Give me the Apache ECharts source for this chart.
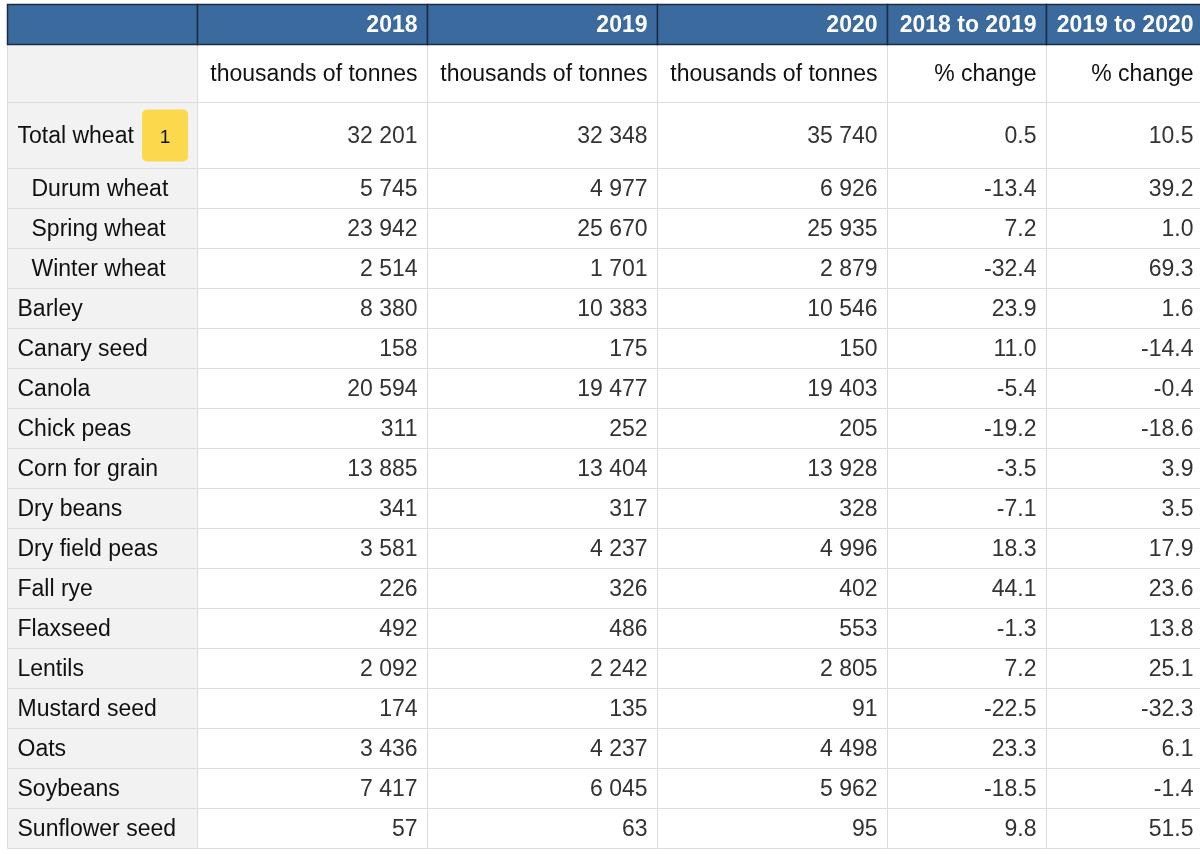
<!DOCTYPE html>
<html>
<head>
<meta charset="utf-8">
<script src="https://cdn.jsdelivr.net/npm/echarts@6/dist/echarts.min.js"></script>
<style>
  html, body { margin: 0; padding: 0; background: #fff; }
  #main { width: 1200px; height: 854px; }
</style>
</head>
<body>
<div id="main"></div>
<script>
// table data
var crops = ['Total wheat', 'Durum wheat', 'Spring wheat', 'Winter wheat', 'Barley', 'Canary seed',
  'Canola', 'Chick peas', 'Corn for grain', 'Dry beans', 'Dry field peas', 'Fall rye', 'Flaxseed',
  'Lentils', 'Mustard seed', 'Oats', 'Soybeans', 'Sunflower seed'];
var subCrops = ['Durum wheat', 'Spring wheat', 'Winter wheat'];
var years = ['2018', '2019', '2020', '2018 to 2019', '2019 to 2020'];
var units = ['thousands of tonnes', 'thousands of tonnes', 'thousands of tonnes', '% change', '% change'];
var prod2018 = [32201, 5745, 23942, 2514, 8380, 158, 20594, 311, 13885, 341, 3581, 226, 492, 2092, 174, 3436, 7417, 57];
var prod2019 = [32348, 4977, 25670, 1701, 10383, 175, 19477, 252, 13404, 317, 4237, 326, 486, 2242, 135, 4237, 6045, 63];
var prod2020 = [35740, 6926, 25935, 2879, 10546, 150, 19403, 205, 13928, 328, 4996, 402, 553, 2805, 91, 4498, 5962, 95];
var chg1819 = [0.5, -13.4, 7.2, -32.4, 23.9, 11.0, -5.4, -19.2, -3.5, -7.1, 18.3, 44.1, -1.3, 7.2, -22.5, 23.3, -18.5, 9.8];
var chg1920 = [10.5, 39.2, 1.0, 69.3, 1.6, -14.4, -0.4, -18.6, 3.9, 3.5, 17.9, 23.6, 13.8, 25.1, -32.3, 6.1, -1.4, 51.5];
var footnote = { crop: 'Total wheat', mark: '1' };

// layout (pixels on the hidden value axes)
var colEdges = [7.5, 197.5, 427.5, 657.5, 887.5, 1046.5, 1203.5];
var rowEdges = [4.5, 44.5, 102.5, 168.5];
for (var k = 1; k < crops.length; k++) rowEdges.push(168.5 + k * 40);

var FONT = '"Liberation Sans", Arial, sans-serif';

function fmtInt(v) {
  return String(v).replace(/\B(?=(\d{3})+(?!\d))/g, ' ');
}

// build cells: [col, row], kind, text
var cells = [];
crops.forEach(function (name, i) {
  var r = i + 2;
  cells.push({ value: [0, r], kind: 'label', text: name, indent: subCrops.indexOf(name) >= 0 });
  [prod2018, prod2019, prod2020].forEach(function (arr, c) {
    cells.push({ value: [c + 1, r], kind: 'num', text: fmtInt(arr[i]) });
  });
  [chg1819, chg1920].forEach(function (arr, c) {
    cells.push({ value: [c + 4, r], kind: 'num', text: arr[i].toFixed(1) });
  });
});
cells.push({ value: [0, 1], kind: 'unitBlank', text: '' });
units.forEach(function (u, c) {
  cells.push({ value: [c + 1, 1], kind: 'unit', text: u });
});
cells.push({ value: [0, 0], kind: 'head', text: '' });
years.forEach(function (y, c) {
  cells.push({ value: [c + 1, 0], kind: 'head', text: y });
});

var myChart = echarts.init(document.getElementById('main'));

function renderCell(params, api) {
  var cell = cells[params.dataIndex];
  var c = api.value(0), r = api.value(1);
  var p0 = api.coord([colEdges[c], rowEdges[r]]);
  var p1 = api.coord([colEdges[c + 1], rowEdges[r + 1]]);
  var x = p0[0], y = p0[1], w = p1[0] - p0[0], h = p1[1] - p0[1];
  var head = cell.kind === 'head';
  var fill = head ? '#3b6a9e' : (c === 0 ? '#f2f2f2' : '#ffffff');
  var stroke = head ? '#1c2c43' : '#dcdcdc';
  var children = [{
    type: 'rect',
    shape: { x: x, y: y, width: w, height: h },
    style: { fill: fill, stroke: stroke, lineWidth: head ? 1.5 : 1 }
  }];
  if (cell.text) {
    var left = cell.kind === 'label';
    children.push({
      type: 'text',
      style: {
        text: cell.text,
        x: left ? x + (cell.indent ? 24 : 10) : x + w - 10,
        y: y + h / 2 + 1,
        align: left ? 'left' : 'right',
        verticalAlign: 'middle',
        fill: head ? '#ffffff' : (cell.kind === 'num' ? '#333333' : '#111111'),
        font: (head ? 'bold ' : '') + '23px ' + FONT
      }
    });
  }
  return { type: 'group', children: children };
}

function renderBadge(params, api) {
  var r = api.value(1);
  var top = api.coord([colEdges[0], rowEdges[r]]);
  var bottom = api.coord([colEdges[1], rowEdges[r + 1]]);
  var x1 = bottom[0] - 9.5, x0 = x1 - 46;
  var yc = (top[1] + bottom[1]) / 2;
  return {
    type: 'group',
    children: [{
      type: 'rect',
      shape: { x: x0, y: yc - 26, width: 46, height: 52, r: 5 },
      style: { fill: '#fcd94c' }
    }, {
      type: 'text',
      style: {
        text: footnote.mark, x: (x0 + x1) / 2, y: yc + 2,
        align: 'center', verticalAlign: 'middle',
        fill: '#111111', font: '19px ' + FONT
      }
    }]
  };
}

var option = {
  animation: false,
  grid: { left: 0, right: 0, top: 0, bottom: 0 },
  xAxis: { type: 'value', min: 0, max: 1200, show: false },
  yAxis: { type: 'value', min: 0, max: 854, inverse: true, show: false },
  series: [{
    type: 'custom',
    renderItem: renderCell,
    data: cells,
    silent: true,
    clip: false
  }, {
    type: 'custom',
    renderItem: renderBadge,
    data: [[0, crops.indexOf(footnote.crop) + 2]],
    silent: true,
    z: 3
  }]
};

myChart.setOption(option);
</script>
</body>
</html>
